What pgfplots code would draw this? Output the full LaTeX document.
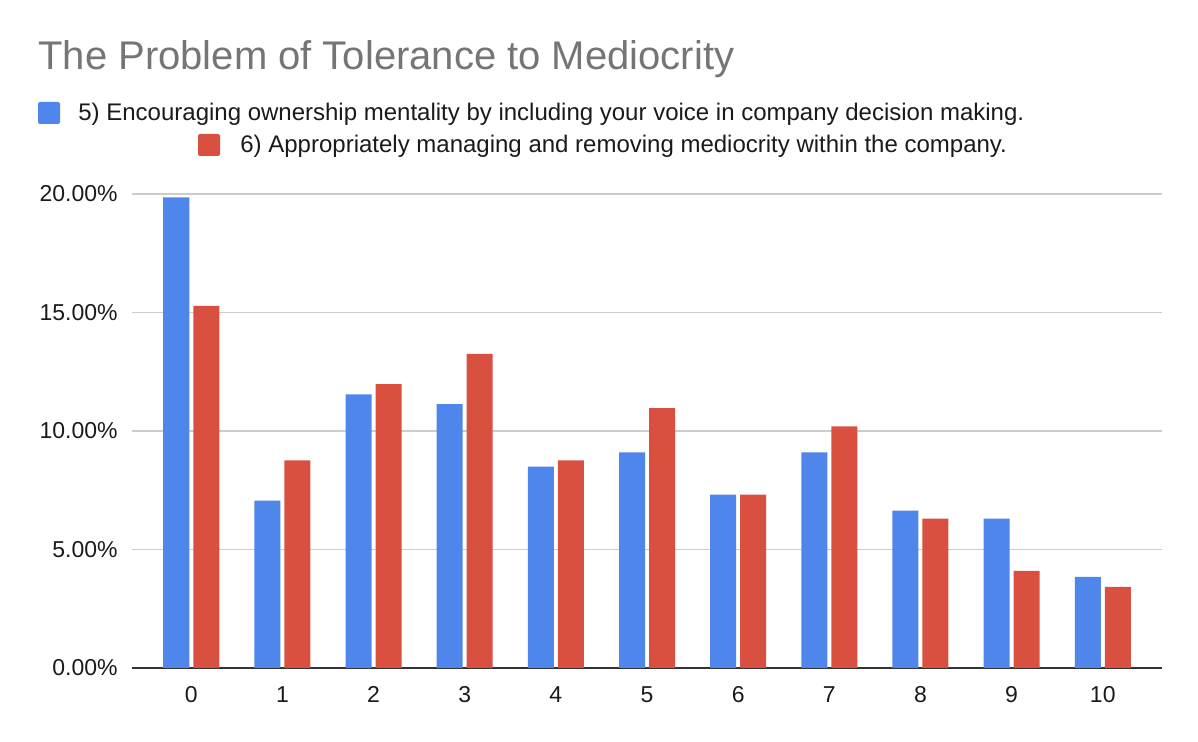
\documentclass[border=0pt]{standalone}
\usepackage{pgfplots}
\pgfplotsset{compat=1.18}
\usepackage{fontspec}
\setmainfont{Liberation Sans}
\definecolor{gblue}{HTML}{4F86EC}
\definecolor{gred}{HTML}{DA5040}
\definecolor{gtitle}{HTML}{757575}
\definecolor{ggrid}{HTML}{CCCCCC}
\definecolor{gaxis}{HTML}{333333}
\definecolor{gtext}{HTML}{1A1A1A}
\begin{document}
\begin{tikzpicture}[x=1pt,y=1pt]
\useasboundingbox (0,0) rectangle (599,371);
\begin{axis}[
  at={(66pt,37pt)}, anchor=south west,
  scale only axis, width=515pt, height=237pt,
  ybar=2pt, bar width=13pt,
  xmin=-0.65, xmax=10.65, ymin=0, ymax=20,
  xtick={0,...,10}, ytick={0,5,10,15,20},
  axis x line*=bottom,
  axis y line*=left,
  x axis line style={gaxis, line width=1pt, -},
  y axis line style={draw=none},
  ymajorgrids, grid style={ggrid, line width=0.75pt},
  major tick length=0pt,
  tick style={draw=none},
  yticklabel={\pgfmathprintnumber[fixed,fixed zerofill,precision=2]{\tick}\%},
  /pgf/number format/assume math mode=true,
  ticklabel style={font=\fontsize{11.5}{13}\selectfont, text=gtext},
  y tick label style={inner sep=0pt, anchor=east, xshift=-7pt},
  x tick label style={inner sep=0pt, anchor=north, yshift=-9pt},
  clip=false,
]
\addplot[fill=gblue, draw=none] coordinates {
 (0,19.86) (1,7.06) (2,11.55) (3,11.13) (4,8.50) (5,9.10) (6,7.32) (7,9.10) (8,6.64) (9,6.30) (10,3.84)};
\addplot[fill=gred, draw=none] coordinates {
 (0,15.28) (1,8.76) (2,11.98) (3,13.25) (4,8.76) (5,10.96) (6,7.32) (7,10.20) (8,6.30) (9,4.10) (10,3.42)};
\end{axis}
\node[anchor=base west, inner sep=0pt, text=gtitle, font=\fontsize{20}{22}\selectfont] at (19,336) {The Problem of Tolerance to Mediocrity};
\fill[gblue, rounded corners=1pt] (19,309) rectangle (30,320);
\node[anchor=base west, inner sep=0pt, text=gtext, font=\fontsize{12}{14}\selectfont] at (39,310.5) {5) Encouraging ownership mentality by including your voice in company decision making.};
\fill[gred, rounded corners=1pt] (99,293) rectangle (110,304);
\node[anchor=base west, inner sep=0pt, text=gtext, font=\fontsize{12}{14}\selectfont] at (120,294.5) {6) Appropriately managing and removing mediocrity within the company.};
\end{tikzpicture}
\end{document}
